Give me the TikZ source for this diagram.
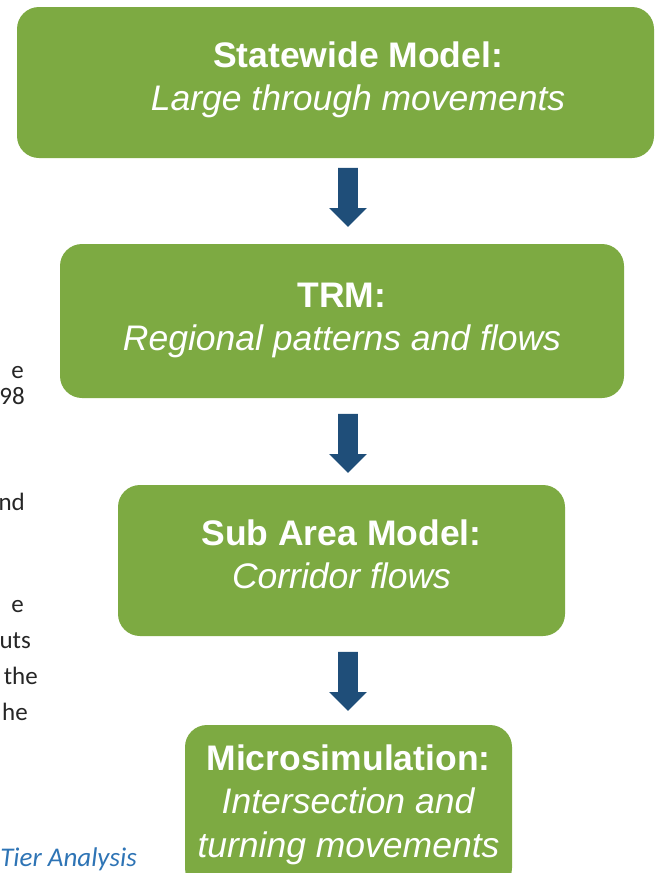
\documentclass[tikz,border=0pt]{standalone}
\usepackage{fontspec}
\setmainfont{Liberation Sans}
\newfontfamily\bodyfont{Carlito}
\usepackage{tikz}
\usetikzlibrary{shapes.arrows,positioning}
\definecolor{stagegreen}{RGB}{125,170,66}
\definecolor{arrowblue}{RGB}{31,78,121}
\definecolor{captionblue}{RGB}{46,116,181}
\definecolor{bodygrey}{RGB}{38,38,38}
\tikzset{
  %Define style for model boxes
  stage/.style={
    rectangle,
    rounded corners=22pt,
    fill=stagegreen, draw=none,
    inner sep=0pt},
  % Define style for box texts
  stagetext/.style={
    text=white,
    align=center,
    inner sep=0pt,
    text depth=0pt,
    font=\fontsize{35.5}{43.5}\selectfont},
  % Define block arrow style
  flow/.style={
    single arrow,
    fill=arrowblue, draw=none,
    inner sep=9.7pt,
    minimum height=59,
    single arrow head extend=9,
    single arrow head indent=0pt,
    rotate=-90},
  % Define style for cut off page text
  margintext/.style={
    anchor=base east,
    inner sep=0pt,
    text=bodygrey,
    font=\bodyfont\fontsize{25}{30}\selectfont}
}

\begin{document}
\begin{tikzpicture}[x=1pt,y=-1pt]
  \useasboundingbox (0,0) rectangle (654,873);
  \clip (0,0) rectangle (654,873);
  % model boxes
  \node[stage, minimum width=637, minimum height=151] (statewide) at (335.5,82.5) {};
  \node[stage, minimum width=564, minimum height=154] (trm) at (342,321) {};
  \node[stage, minimum width=447, minimum height=151] (subarea) at (341.5,560.5) {};
  \node[stage, minimum width=327, minimum height=165] (micro) at (348.5,807.5) {};
  \node[stagetext] (statewide-txt) at ([xshift=22.5,yshift=6.5]statewide.center)
    {\textbf{Statewide Model:}\\\textit{Large through movements}};
  \node[stagetext] (trm-txt) at ([yshift=4]trm.center)
    {\textbf{TRM:}\\\textit{Regional patterns and flows}};
  \node[stagetext] (subarea-txt) at ([yshift=6.5]subarea.center)
    {\textbf{Sub Area Model:}\\\textit{Corridor flows}};
  \node[stagetext] (micro-txt) at ([yshift=6.5]micro.center)
    {\textbf{Microsimulation:}\\\textit{Intersection and}\\\textit{turning movements}};
  % arrows between the tiers
  \node[flow] (arrow1) at (348,192.5) {};
  \node[flow] (arrow2) at (348,438.5) {};
  \node[flow] (arrow3) at (348,676.5) {};
  % text of the page beside the figure
  \node[margintext] (line1) at (24,378) {e};
  \node[margintext] (line2) at (25,404) {98};
  \node[margintext] (line3) at (25,510) {nd};
  \node[margintext] (line4) at (24,612) {e};
  \node[margintext] (line5) at (31,648) {uts};
  \node[margintext] (line6) at (38,684) {the};
  \node[margintext] (line7) at (28,720) {he};
  \node[margintext, text=captionblue,
    font=\bodyfont\itshape\fontsize{27}{32}\selectfont] (caption) at (137,866) {Tier Analysis};
\end{tikzpicture}
\end{document}
